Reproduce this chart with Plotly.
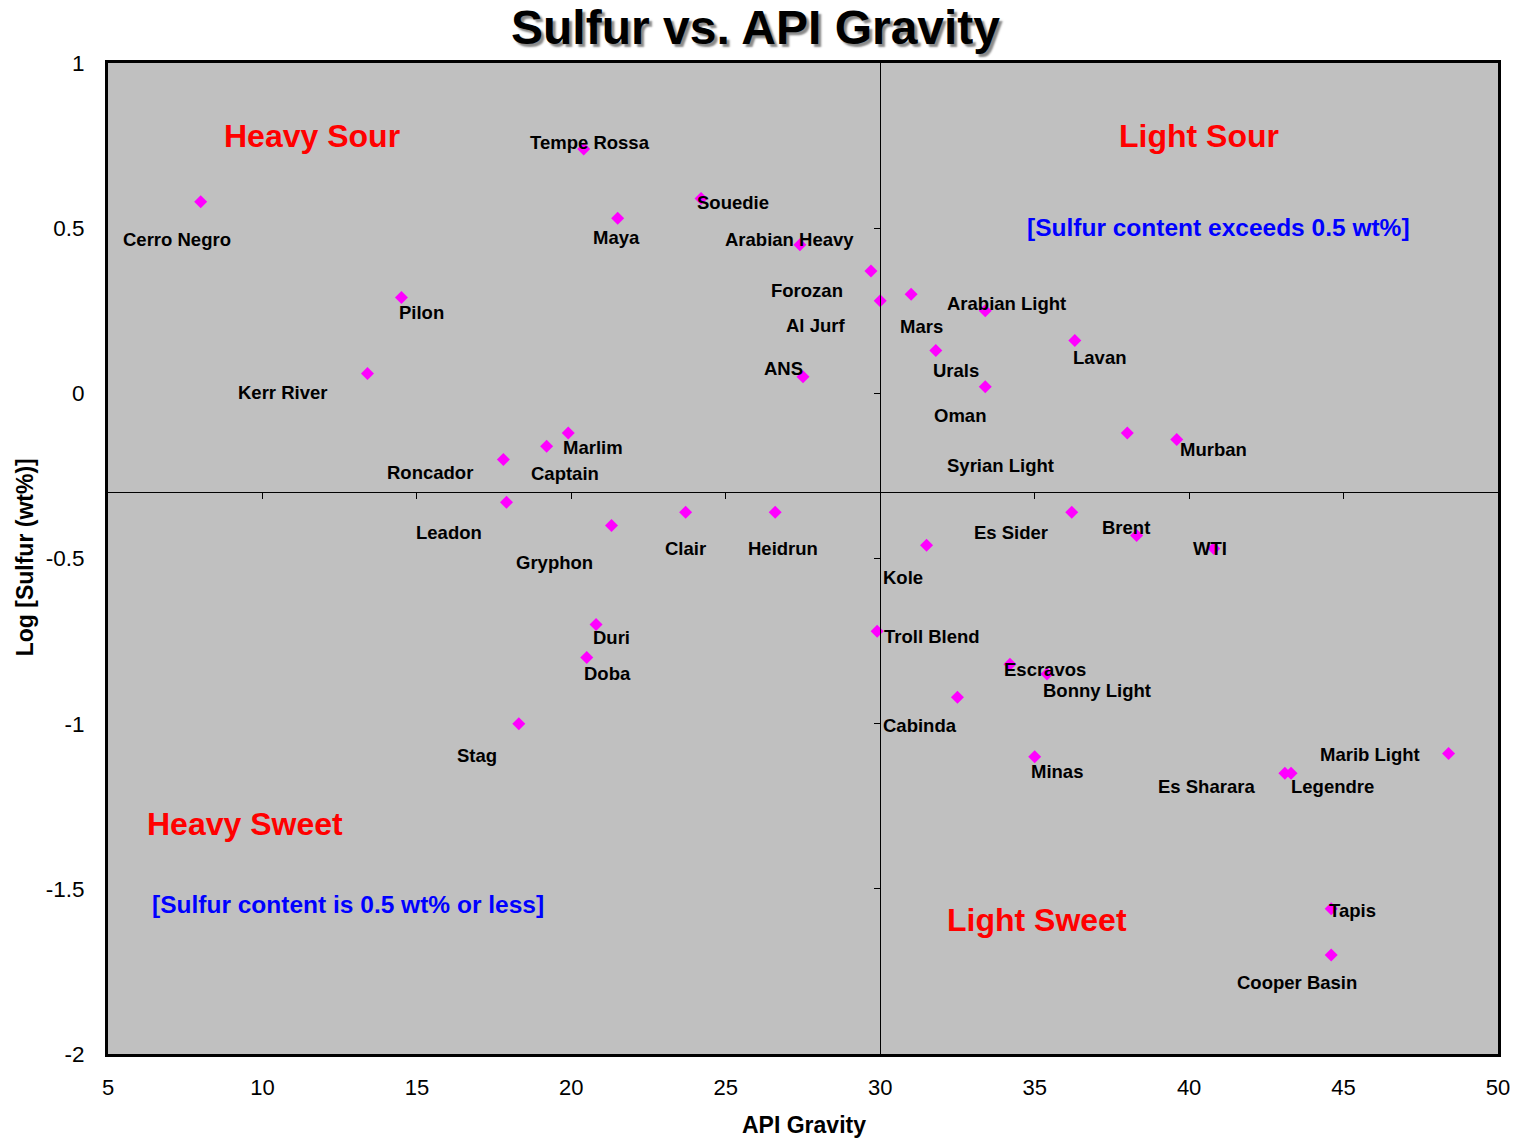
import plotly.graph_objects as go

# crude oils: API gravity vs log10 of sulfur content (wt%)
crudes = ['Cerro Negro', 'Tempe Rossa', 'Maya', 'Souedie', 'Arabian Heavy', 'Forozan',
          'Al Jurf', 'Mars', 'Arabian Light', 'Pilon', 'Kerr River', 'Urals', 'Lavan',
          'ANS', 'Oman', 'Marlim', 'Captain', 'Roncador', 'Syrian Light', 'Murban',
          'Leadon', 'Gryphon', 'Clair', 'Heidrun', 'Es Sider', 'Brent', 'WTI', 'Kole',
          'Duri', 'Doba', 'Troll Blend', 'Escravos', 'Bonny Light', 'Cabinda', 'Stag',
          'Minas', 'Marib Light', 'Es Sharara', 'Legendre', 'Tapis', 'Cooper Basin']
api_gravity = [8.0, 20.4, 21.5, 24.2, 27.4, 29.7,
               30.0, 31.0, 33.4, 14.5, 13.4, 31.8, 36.3,
               27.5, 33.4, 19.9, 19.2, 17.8, 38.0, 39.6,
               17.9, 21.3, 23.7, 26.6, 36.2, 38.3, 40.8, 31.5,
               20.8, 20.5, 29.9, 34.2, 35.4, 32.5, 18.3,
               35.0, 48.4, 43.1, 43.3, 44.6, 44.6]
log_sulfur = [0.58, 0.74, 0.53, 0.59, 0.45, 0.37,
              0.28, 0.30, 0.25, 0.29, 0.06, 0.13, 0.16,
              0.05, 0.02, -0.12, -0.16, -0.20, -0.12, -0.14,
              -0.33, -0.40, -0.36, -0.36, -0.36, -0.43, -0.47, -0.46,
              -0.70, -0.80, -0.72, -0.82, -0.85, -0.92, -1.00,
              -1.10, -1.09, -1.15, -1.15, -1.56, -1.70]

x_ticks = [5, 10, 15, 20, 25, 30, 35, 40, 45, 50]
y_ticks = [1, 0.5, 0, -0.5, -1, -1.5, -2]
y_ticktext = ['1', '0.5', '0', '-0.5', '-1', '-1.5', '-2']
x_cross = 30      # API gravity split light / heavy
y_cross = -0.3    # log(0.5 wt%) split sour / sweet

# label offsets in pixels (dx right, dy down) from each marker
label_offsets = {
    'Cerro Negro': (-24, 38), 'Tempe Rossa': (6, -6), 'Maya': (-1, 19),
    'Souedie': (32, 4), 'Arabian Heavy': (-10, -5), 'Forozan': (-64, 19),
    'Al Jurf': (-65, 25), 'Mars': (10, 32), 'Arabian Light': (21, -7),
    'Pilon': (20, 15), 'Kerr River': (-85, 19), 'Urals': (20, 20),
    'Lavan': (25, 17), 'ANS': (-20, -8), 'Oman': (-25, 29),
    'Marlim': (25, 15), 'Captain': (18, 27), 'Roncador': (-73, 13),
    'Syrian Light': (-127, 33), 'Murban': (37, 10), 'Leadon': (-57, 30),
    'Gryphon': (-57, 37), 'Clair': (0, 36), 'Heidrun': (8, 36),
    'Es Sider': (-61, 20), 'Brent': (-11, -8), 'WTI': (-4, 0),
    'Kole': (-24, 32), 'Duri': (15, 13), 'Doba': (21, 16),
    'Troll Blend': (55, 5), 'Escravos': (35, 5), 'Bonny Light': (50, 16),
    'Cabinda': (-37, 28), 'Stag': (-42, 32), 'Minas': (22, 15),
    'Marib Light': (-79, 1), 'Es Sharara': (-78, 13), 'Legendre': (41, 13),
    'Tapis': (21, 2), 'Cooper Basin': (-34, 28),
}

FONT = 'Liberation Sans, Arial, sans-serif'

fig = go.Figure()
fig.add_trace(go.Scatter(
    x=api_gravity, y=log_sulfur, mode='markers', text=crudes,
    marker=dict(symbol='diamond', size=10, color='#FF00FF', line=dict(width=0)),
    hoverinfo='text+x+y', showlegend=False,
))

annotations = []
for name, xv, yv in zip(crudes, api_gravity, log_sulfur):
    dx, dy = label_offsets[name]
    annotations.append(dict(
        x=xv, y=yv, xref='x', yref='y', text=name, showarrow=False,
        xshift=dx, yshift=-dy,
        font=dict(family=FONT, size=18.5, color='black', weight='bold'),
    ))

# quadrant captions
for txt, xv, yv, col, sz in [
    ('Heavy Sour', 11.62, 0.779, 'red', 32),
    ('Light Sour', 40.31, 0.779, 'red', 32),
    ('Heavy Sweet', 9.42, -1.304, 'red', 32),
    ('Light Sweet', 35.08, -1.595, 'red', 32),
    ('[Sulfur content exceeds 0.5 wt%]', 40.96, 0.503, 'blue', 24.5),
    ('[Sulfur content is 0.5 wt% or less]', 12.78, -1.546, 'blue', 24.5),
]:
    annotations.append(dict(
        x=xv, y=yv, xref='x', yref='y', text=txt, showarrow=False,
        font=dict(family=FONT, size=sz, color=col, weight='bold'),
    ))

# title and axis titles
annotations.append(dict(
    x=0.4656, y=1.0363, xref='paper', yref='paper', text='Sulfur vs. API Gravity',
    showarrow=False, yanchor='middle',
    font=dict(family=FONT, size=48, color='black', weight='bold', shadow='3px 3px 2px #8a8a8a'),
))
annotations.append(dict(
    x=0.5007, y=-0.0716, xref='paper', yref='paper', text='API Gravity',
    showarrow=False, yanchor='middle',
    font=dict(family=FONT, size=23, color='black', weight='bold'),
))
annotations.append(dict(
    x=-0.0595, y=0.5015, xref='paper', yref='paper', text='Log [Sulfur (wt%)]',
    showarrow=False, textangle=-90, xanchor='center', yanchor='middle',
    font=dict(family=FONT, size=23, color='black', weight='bold'),
))

fig.update_layout(
    width=1522, height=1140,
    margin=dict(l=108, r=20, t=63, b=86),
    paper_bgcolor='white', plot_bgcolor='#C0C0C0',
    annotations=annotations,
    xaxis=dict(range=[5, 50], tickvals=x_ticks, showgrid=False, zeroline=False,
               showline=True, linecolor='black', linewidth=3, mirror=True,
               ticks='', ticklabelstandoff=12,
               tickfont=dict(family=FONT, size=22, color='black')),
    yaxis=dict(range=[-2, 1], tickvals=y_ticks, ticktext=y_ticktext,
               showgrid=False, zeroline=False,
               showline=True, linecolor='black', linewidth=3, mirror=True,
               ticks='', ticklabelstandoff=16,
               tickfont=dict(family=FONT, size=22.5, color='black')),
    # crossing axes drawn through the middle of the plot
    xaxis2=dict(overlaying='x', anchor='free', position=(y_cross + 2) / 3,
                range=[5, 50], tickvals=x_ticks[1:-1], showticklabels=False,
                ticks='outside', ticklen=6, tickcolor='black', tickwidth=1,
                showline=True, linecolor='black', linewidth=1,
                showgrid=False, zeroline=False),
    yaxis2=dict(overlaying='y', anchor='free', position=(x_cross - 5) / 45,
                range=[-2, 1], tickvals=y_ticks[1:-1], showticklabels=False,
                ticks='outside', ticklen=6, tickcolor='black', tickwidth=1,
                showline=True, linecolor='black', linewidth=1,
                showgrid=False, zeroline=False),
)
# dummy invisible trace so the overlay axes get drawn
fig.add_trace(go.Scatter(x=[None], y=[None], xaxis='x2', yaxis='y2',
                         showlegend=False, hoverinfo='skip'))

# drop the default page margin so the figure fills the window exactly
fig.write_html("out.html", config={'displayModeBar': False},
               post_script="document.body.style.margin='0';document.body.style.overflow='hidden';")
